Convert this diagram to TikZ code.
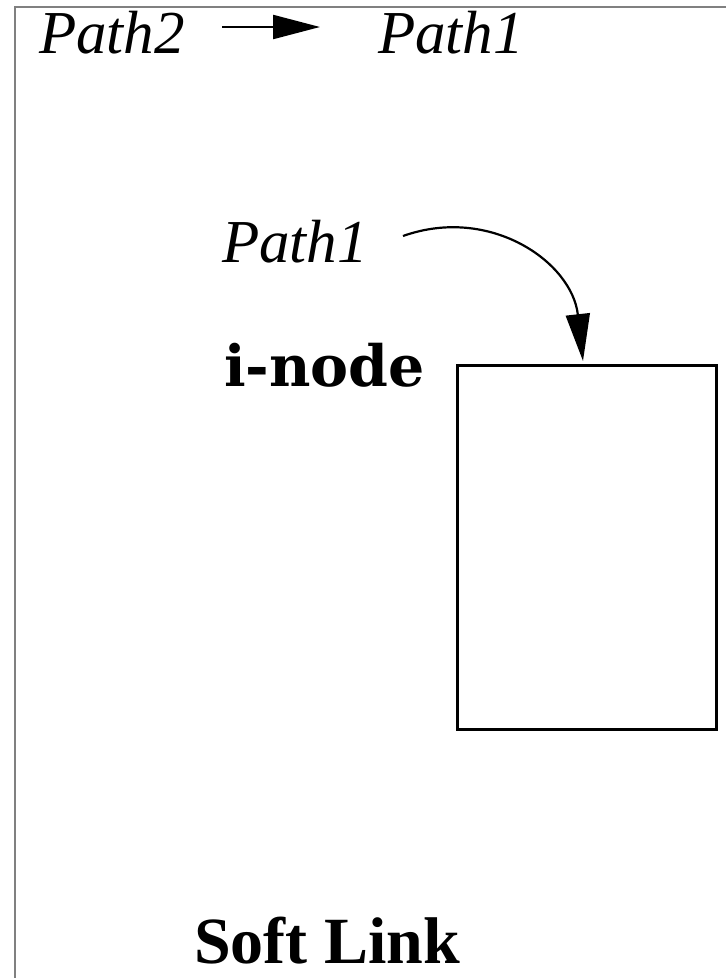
\documentclass[tikz,border=0pt]{standalone}
\usepackage{fontspec}
\setmainfont{Liberation Serif}
\newfontfamily\boldser{DejaVu Serif}
\usetikzlibrary{arrows.meta}
\tikzset{
  lbl/.style={anchor=base west, inner sep=0pt, outer sep=0pt},
  ital/.style={lbl, font=\fontsize{61}{70}\selectfont\itshape},
  frameline/.style={draw=gray, line width=1.5pt},
  conn/.style={line width=2.2pt, -{Triangle[length=47pt,width=24pt]}},
  box/.style={draw, line width=2.5pt}
}
\begin{document}
\begin{tikzpicture}[x=1pt,y=-1pt]
\useasboundingbox (0,0) rectangle (726,978);
\fill[white] (0,0) rectangle (726,978);
\draw[frameline] (15,980) -- (15,7) -- (728,7);
\node[ital] (p2) at (39,53) {Path2};
\node[ital] (p1top) at (378,53) {Path1};
\coordinate (a1s) at (222,27);
\coordinate (a1e) at (320,27);
\draw[conn] (a1s) -- (a1e);
\node[ital] (p1) at (222,262) {Path1};
\node[lbl, font=\boldser\bfseries\fontsize{57}{66}\selectfont] (inode) at (224,386) {i-node};
\node[box, minimum width=259pt, minimum height=364pt, anchor=north west, inner sep=0pt] (rect) at (456,364) {};
\coordinate (c1s) at (403,236);
\coordinate (c1e) at (583,361);
\draw[conn] (c1s) .. controls (490,205) and (572,262) .. (c1e);
\node[lbl, font=\bfseries\fontsize{66}{76}\selectfont] (soft) at (194,963) {Soft Link};
\end{tikzpicture}
\end{document}
